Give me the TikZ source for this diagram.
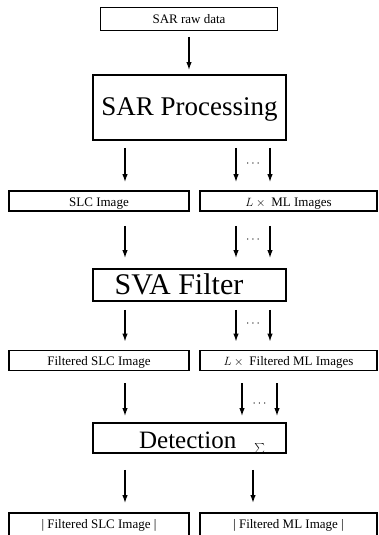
\documentclass[tikz,border=0pt]{standalone}
\usepackage{fontspec}
\setmainfont{Liberation Serif}
\usetikzlibrary{arrows.meta,calc}
\begin{document}
\begin{tikzpicture}[x=1pt,y=-1pt,
  smallbox/.style={draw,line width=1.8pt,inner sep=0pt,minimum height=20pt,text height=10pt,text depth=0pt,font=\fontsize{13}{15}\selectfont},
  bigbox/.style={draw,line width=1.9pt,inner sep=0pt,minimum width=193pt,text depth=0pt},
  arr/.style={-{Latex[length=8pt,width=5.5pt]},line width=1.3pt},
  dots/.style={inner sep=0pt,font=\fontsize{13}{15}\selectfont}]
\useasboundingbox (0,0) rectangle (378,535);
\clip (0,0) rectangle (378,535);
% columns
\coordinate (cm) at (189,0);
\coordinate (cl) at (125,0);
\coordinate (ca) at (236,0);
\coordinate (cb) at (270,0);
\coordinate (cc) at (242,0);
\coordinate (cd) at (277,0);
\coordinate (ce) at (253,0);
% boxes
\node[draw,line width=1pt,inner sep=0pt,minimum width=177pt,minimum height=23pt,text height=10pt,text depth=0pt,font=\fontsize{13}{15}\selectfont] (raw) at (189,19) {SAR raw data};
\node[bigbox,minimum height=65pt,text height=15pt,font=\fontsize{27}{30}\selectfont] (proc) at (189.5,107.5) {SAR Processing};
\node[smallbox,minimum width=180pt] (slc) at (99,201) {SLC Image};
\node[smallbox,minimum width=177pt] (ml) at (288.5,201) {$L\times{}$ ML Images};
\node[bigbox,minimum height=32pt,text height=18pt,font=\fontsize{30}{33}\selectfont] (sva) at (189.5,285) {SVA Filter\hspace*{21pt}};
\node[smallbox,minimum width=180pt] (fslc) at (99,360.5) {Filtered SLC Image};
\node[smallbox,minimum width=177pt] (fml) at (288.5,360.5) {$L\times{}$ Filtered ML Images};
\node[bigbox,minimum height=30pt,text height=20pt,font=\fontsize{25}{28}\selectfont] (det) at (189.5,438) {\hspace*{25pt}Detection\hspace{18pt}\raisebox{-3pt}{\fontsize{10}{10}\selectfont$\sum$}};
\node[smallbox,minimum width=180pt,minimum height=24pt,text height=6pt] (aslc) at (99,525) {| Filtered SLC Image |};
\node[smallbox,minimum width=177pt,minimum height=24pt,text height=6pt] (aml) at (288.5,525) {| Filtered ML Image |};
% arrows
\draw[arr,shorten <=6pt,shorten >=4pt] (raw.south) -- (proc.north -| raw.south);
\draw[arr,shorten <=7pt,shorten >=8pt] (proc.south -| cl) -- (slc.north -| cl);
\draw[arr,shorten <=7pt,shorten >=8pt] (proc.south -| ca) -- (ml.north -| ca);
\draw[arr,shorten <=7pt,shorten >=8pt] (proc.south -| cb) -- (ml.north -| cb);
\node[dots] (d1) at (253,164) {$\cdots$};
\draw[arr,shorten <=14pt,shorten >=10pt] (slc.south -| cl) -- (sva.north -| cl);
\draw[arr,shorten <=14pt,shorten >=10pt] (ml.south -| ca) -- (sva.north -| ca);
\draw[arr,shorten <=14pt,shorten >=10pt] (ml.south -| cb) -- (sva.north -| cb);
\node[dots] (d2) at (253,240) {$\cdots$};
\draw[arr,shorten <=8pt,shorten >=8pt] (sva.south -| cl) -- (fslc.north -| cl);
\draw[arr,shorten <=8pt,shorten >=8pt] (sva.south -| ca) -- (fml.north -| ca);
\draw[arr,shorten <=8pt,shorten >=8pt] (sva.south -| cb) -- (fml.north -| cb);
\node[dots] (d3) at (253,324) {$\cdots$};
\draw[arr,shorten <=12pt,shorten >=6pt] (fslc.south -| cl) -- (det.north -| cl);
\draw[arr,shorten <=12pt,shorten >=6pt] (fml.south -| cc) -- (det.north -| cc);
\draw[arr,shorten <=12pt,shorten >=6pt] (fml.south -| cd) -- (det.north -| cd);
\node[dots] (d4) at (259.5,404) {$\cdots$};
\draw[arr,shorten <=16pt,shorten >=9pt] (det.south -| cl) -- (aslc.north -| cl);
\draw[arr,line width=1.8pt,shorten <=16pt,shorten >=9pt] (det.south -| ce) -- (aml.north -| ce);
\end{tikzpicture}
\end{document}
